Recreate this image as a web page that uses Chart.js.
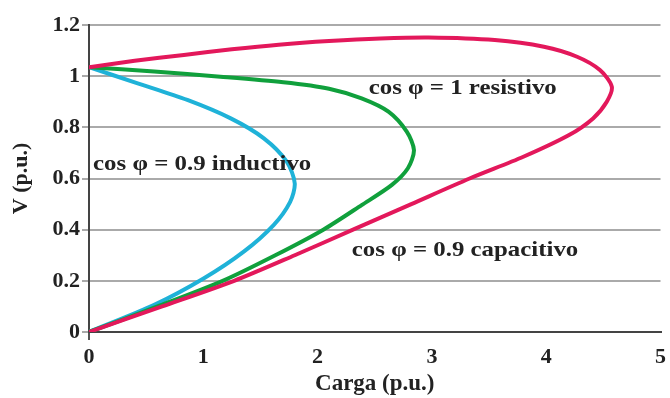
<!DOCTYPE html>
<html>
<head>
<meta charset="utf-8">
<script src="https://cdn.jsdelivr.net/npm/chart.js@4.4.1/dist/chart.umd.min.js"></script>
<style>
html,body{margin:0;padding:0;background:#fff;}
#wrap{width:670px;height:398px;position:relative;}
</style>
</head>
<body>
<div id="wrap"><canvas id="c" width="670" height="398"></canvas></div>
<script>
// Data (Carga p.u. vs V p.u.)
const resistivoX = [0, 0.4, 0.83, 1.25, 1.66, 2.1, 2.55, 2.97, 3.55, 3.98, 4.27, 4.47, 4.574, 4.53, 4.41, 4.20, 3.80, 3.33, 2.82, 2.31, 1.80, 1.27, 0.64, 0];
const resistivoY = [1.035, 1.06, 1.083, 1.105, 1.123, 1.137, 1.147, 1.151, 1.141, 1.115, 1.076, 1.024, 0.959, 0.90, 0.835, 0.77, 0.685, 0.6, 0.5, 0.4, 0.3, 0.2, 0.1, 0];

const verdeX = [0, 0.57, 1.15, 1.7, 2.1, 2.385, 2.62, 2.78, 2.843, 2.79, 2.65, 2.385, 2.05, 1.63, 1.17, 0.6, 0];
const verdeY = [1.035, 1.018, 0.998, 0.976, 0.951, 0.913, 0.861, 0.783, 0.711, 0.64, 0.575, 0.496, 0.4, 0.3, 0.2, 0.1, 0];

const inductivoX = [0, 0.426, 0.86, 1.24, 1.53, 1.73, 1.80, 1.76, 1.615, 1.354, 1.006, 0.571, 0];
const inductivoY = [1.035, 0.972, 0.907, 0.835, 0.757, 0.666, 0.581, 0.509, 0.418, 0.314, 0.21, 0.106, 0];

const xTicks = [0, 1, 2, 3, 4, 5];
const yTicks = [0, 0.2, 0.4, 0.6, 0.8, 1, 1.2];

const labelTexts = ['cos φ = 1 resistivo', 'cos φ = 0.9 inductivo', 'cos φ = 0.9 capacitivo'];
const labelX = [3.27, 0.99, 3.29];
const labelY = [0.954, 0.657, 0.32];

const toPts = (xs, ys) => xs.map((x, i) => ({x: x, y: ys[i]}));
const FONT = "'Liberation Serif', 'Times New Roman', serif";

const labelPlugin = {
  id: 'curveLabels',
  afterDatasetsDraw(chart) {
    const ctx = chart.ctx;
    const xs = chart.scales.x, ys = chart.scales.y;
    ctx.save();
    ctx.font = "bold 22px " + FONT;
    ctx.fillStyle = '#222';
    ctx.textAlign = 'center';
    ctx.textBaseline = 'middle';
    labelTexts.forEach((t, i) => {
      const px = xs.getPixelForValue(labelX[i]);
      const py = ys.getPixelForValue(labelY[i]);
      ctx.save();
      ctx.translate(px, py);
      ctx.scale(1.13, 1);
      ctx.fillText(t, 0, 0);
      ctx.restore();
    });
    ctx.restore();
  }
};

const lineStyle = {borderWidth: 4, showLine: true, pointRadius: 0, tension: 0.28, fill: false, borderCapStyle: 'round', borderJoinStyle: 'round'};

new Chart(document.getElementById('c'), {
  type: 'scatter',
  data: {
    datasets: [
      Object.assign({data: toPts(resistivoX, resistivoY), borderColor: '#e3185b'}, lineStyle),
      Object.assign({data: toPts(verdeX, verdeY), borderColor: '#10a03c'}, lineStyle),
      Object.assign({data: toPts(inductivoX, inductivoY), borderColor: '#1fb2d8'}, lineStyle)
    ]
  },
  options: {
    responsive: false,
    animation: false,
    devicePixelRatio: 1,
    layout: {padding: {left: 0, right: 6, top: 25, bottom: 0}},
    plugins: {legend: {display: false}, tooltip: {enabled: false}},
    scales: {
      x: {
        type: 'linear', min: 0, max: 5,
        afterBuildTicks: s => { s.ticks = xTicks.map(v => ({value: v})); },
        afterFit: s => { s.height = 66; },
        ticks: {font: {family: FONT, size: 22, weight: 'bold'}, color: '#222', padding: 4, maxRotation: 0, callback: v => String(v)},
        grid: {drawOnChartArea: false, tickLength: 8, lineWidth: 2, color: c => (c.tick && c.tick.value === 0) ? '#555' : 'rgba(0,0,0,0)'},
        border: {color: '#444', width: 2},
        title: {display: true, text: 'Carga (p.u.)', font: {family: FONT, size: 23, weight: 'bold'}, color: '#222', padding: {top: 0, bottom: 0}}
      },
      y: {
        type: 'linear', min: 0, max: 1.2,
        afterBuildTicks: s => { s.ticks = yTicks.map(v => ({value: v})); },
        afterFit: s => { s.width = 89; },
        ticks: {font: {family: FONT, size: 22, weight: 'bold'}, color: '#222', padding: 2, callback: v => String(v)},
        grid: {tickLength: 7, lineWidth: 2, color: '#aaa'},
        border: {color: '#444', width: 2},
        title: {display: true, text: 'V (p.u.)', font: {family: FONT, size: 22, weight: 'bold'}, color: '#222', padding: {top: 8, bottom: 0}}
      }
    }
  },
  plugins: [labelPlugin]
});
</script>
</body>
</html>
